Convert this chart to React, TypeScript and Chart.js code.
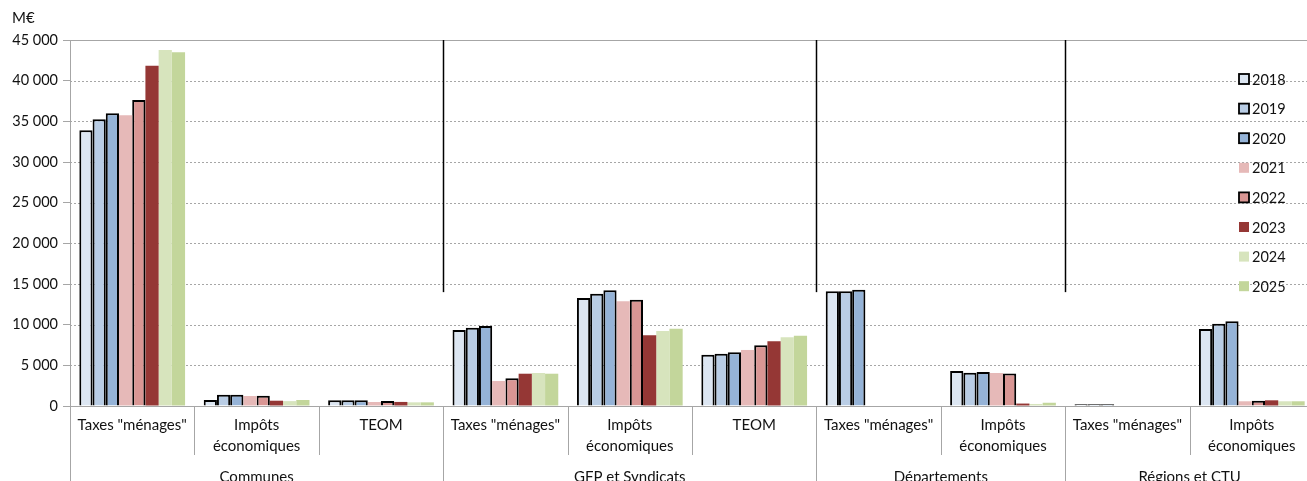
import React, { useEffect, useRef } from "react";
import { Chart, registerables } from "chart.js";

Chart.register(...registerables);

const categoryLabels: string[][] = [
  ['Taxes "ménages"'], ["Impôts", "économiques"], ["TEOM"],
  ['Taxes "ménages"'], ["Impôts", "économiques"], ["TEOM"],
  ['Taxes "ménages"'], ["Impôts", "économiques"],
  ['Taxes "ménages"'], ["Impôts", "économiques"],
];
const groupLabels = ["Communes", "GFP et Syndicats", "Départements", "Régions et CTU"];
const groupSpans = [3, 3, 2, 2];

const years = ["2018", "2019", "2020", "2021", "2022", "2023", "2024", "2025"];

const s2018 = [33900, 750, 700, 9350, 13280, 6300, 14100, 4300, 200, 9460];
const s2019 = [35250, 1390, 700, 9630, 13810, 6430, 14100, 4100, 200, 10120];
const s2020 = [35990, 1390, 700, 9840, 14220, 6600, 14300, 4180, 200, 10410];
const s2021 = [35740, 1230, 490, 3070, 12870, 6890, null, 4060, null, 580];
const s2022 = [37620, 1270, 600, 3400, 13070, 7460, null, 4000, null, 650];
const s2023 = [41840, 650, 500, 3970, 8690, 7950, null, 300, null, 700];
const s2024 = [43770, 600, 450, 4060, 9220, 8440, null, 250, null, 580];
const s2025 = [43480, 740, 450, 3970, 9500, 8650, null, 400, null, 580];

const seriesValues = [s2018, s2019, s2020, s2021, s2022, s2023, s2024, s2025];
const seriesColors = ["#DCE6F2", "#B9CDE5", "#95B3D7", "#E6B9B8", "#D99694", "#953735", "#D7E4BD", "#C3D69B"];
const seriesBordered = [true, true, true, false, true, false, false, false];

const yMax = 45000;
const yStep = 5000;
const separatorTop = 45000;
const separatorBottom = 14000;
const unitLabel = "M€";

const FONT = "Lato, 'Open Sans', sans-serif";
const TEXT = "#111";
const GRID = "#A6A6A6";

const fmt = (v: number) => {
  const s = String(Math.round(v));
  return s.replace(/\B(?=(\d{3})+(?!\d))/g, " ");
};

const customPlugin = {
  id: "customDraw",
  beforeDatasetsDraw(chart: any) {
    const { ctx, chartArea, scales } = chart;
    const y = scales.y;
    ctx.save();
    ctx.strokeStyle = GRID;
    ctx.lineWidth = 1;
    ctx.setLineDash([2, 2]);
    for (let v = yStep; v < yMax; v += yStep) {
      const py = Math.round(y.getPixelForValue(v)) + 0.5;
      ctx.beginPath();
      ctx.moveTo(chartArea.left, py);
      ctx.lineTo(chartArea.right, py);
      ctx.stroke();
    }
    ctx.setLineDash([]);
    const pt = Math.round(y.getPixelForValue(yMax)) + 0.5;
    ctx.beginPath();
    ctx.moveTo(chartArea.left, pt);
    ctx.lineTo(chartArea.right, pt);
    ctx.stroke();
    ctx.restore();
  },
  afterDatasetsDraw(chart: any) {
    const { ctx, chartArea, scales } = chart;
    const x = scales.x;
    const y = scales.y;
    const n = categoryLabels.length;
    const half = (x.getPixelForValue(1) - x.getPixelForValue(0)) / 2;
    const edge = (i: number) => x.getPixelForValue(i) - half;
    ctx.save();

    let idx = 0;
    const groupEdges: number[] = [0];
    groupSpans.forEach((s) => {
      idx += s;
      groupEdges.push(idx);
    });
    ctx.strokeStyle = "#000";
    ctx.lineWidth = 1.5;
    for (let g = 1; g < groupEdges.length - 1; g++) {
      const px = Math.round(edge(groupEdges[g])) + 0.5;
      ctx.beginPath();
      ctx.moveTo(px, y.getPixelForValue(separatorTop));
      ctx.lineTo(px, y.getPixelForValue(separatorBottom));
      ctx.stroke();
    }

    ctx.strokeStyle = GRID;
    ctx.lineWidth = 1;
    for (let i = 0; i <= n; i++) {
      const px = Math.round(edge(i)) + 0.5;
      const isGroup = groupEdges.includes(i);
      ctx.beginPath();
      ctx.moveTo(px, chartArea.bottom);
      ctx.lineTo(px, isGroup ? chart.height : chartArea.bottom + 49);
      ctx.stroke();
    }

    ctx.fillStyle = TEXT;
    ctx.font = `15px ${FONT}`;
    ctx.textAlign = "center";
    ctx.textBaseline = "middle";
    for (let i = 0; i < n; i++) {
      const cx = x.getPixelForValue(i);
      categoryLabels[i].forEach((line, k) => {
        ctx.fillText(line, cx, chartArea.bottom + 19 + k * 21);
      });
    }
    for (let g = 0; g < groupLabels.length; g++) {
      const a = edge(groupEdges[g]);
      const b = Math.min(edge(groupEdges[g + 1]), chart.width);
      ctx.fillText(groupLabels[g], (a + b) / 2, chartArea.bottom + 71);
    }

    ctx.textAlign = "left";
    ctx.fillText(unitLabel, 12, 18);

    ctx.font = `14.5px ${FONT}`;
    const lx = 1239;
    years.forEach((yr, i) => {
      const cy = 79 + i * 29.6;
      ctx.fillStyle = seriesColors[i];
      ctx.fillRect(lx, cy - 5, 10, 10);
      if (seriesBordered[i]) {
        ctx.strokeStyle = "#000";
        ctx.lineWidth = 1.8;
        ctx.strokeRect(lx, cy - 5, 10, 10);
      }
      ctx.fillStyle = TEXT;
      ctx.textAlign = "left";
      ctx.fillText(yr, lx + 13, cy + 1);
    });
    ctx.restore();
  },
};

export default function App() {
  const ref = useRef<HTMLCanvasElement | null>(null);
  useEffect(() => {
    if (!ref.current) return;
    const chart = new Chart(ref.current, {
      type: "bar",
      data: {
        labels: categoryLabels.map((l) => l.join(" ")),
        datasets: years.map((yr, i) => ({
          label: yr,
          data: seriesValues[i],
          backgroundColor: seriesColors[i],
          borderColor: "#000",
          borderWidth: seriesBordered[i] ? 2 : 0,
          categoryPercentage: 0.85,
          barPercentage: 1,
        })),
      },
      options: {
        responsive: false,
        animation: false,
        devicePixelRatio: 1,
        layout: { padding: { top: 40, left: 0, right: 0, bottom: 0 } },
        plugins: { legend: { display: false }, tooltip: { enabled: false } },
        scales: {
          x: {
            grid: { display: false },
            ticks: { display: false },
            border: { color: GRID, width: 1 },
            afterFit: (s: any) => {
              s.height = 75;
            },
          },
          y: {
            min: 0,
            max: yMax,
            grid: { display: true, drawOnChartArea: false, drawTicks: true, tickLength: 7, color: GRID },
            border: { color: GRID, width: 1 },
            ticks: {
              stepSize: yStep,
              color: TEXT,
              font: { family: FONT, size: 14.5 },
              padding: 5,
              callback: (v: any) => fmt(Number(v)),
            },
            afterFit: (s: any) => {
              s.width = 70;
            },
          },
        },
      },
      plugins: [customPlugin],
    });
    return () => chart.destroy();
  }, []);
  return (
    <div style={{ position: "fixed", left: 0, top: 0, width: 1307, height: 481, overflow: "hidden", background: "#fff" }}>
      <canvas ref={ref} width={1314} height={481} style={{ width: 1314, height: 481, display: "block" }} />
    </div>
  );
}
